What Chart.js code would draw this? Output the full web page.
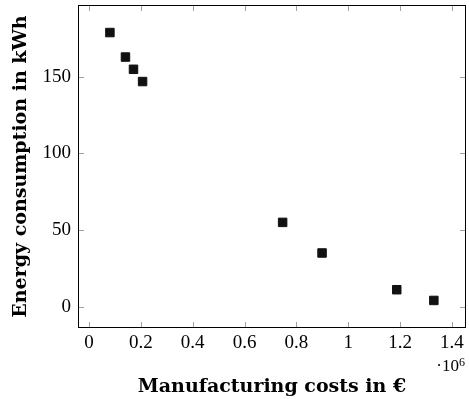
<!DOCTYPE html>
<html>
<head>
<meta charset="utf-8">
<script src="https://cdn.jsdelivr.net/npm/chart.js@4"></script>
<style>
  body { margin: 0; background: #fff; }
  #wrap { width: 469px; height: 399px; }
</style>
</head>
<body>
<div id="wrap"><canvas id="chart" width="469" height="399"></canvas></div>
<script>
// manufacturing costs in euro
const costs = [81000, 141000, 172000, 207000, 747000, 899000, 1187000, 1330000];
// energy consumption in kWh
const energy = [179, 163, 155, 147, 55, 35, 11, 4];

const xTickValues = [0, 200000, 400000, 600000, 800000, 1000000, 1200000, 1400000];
const xTickLabels = ["0", "0.2", "0.4", "0.6", "0.8", "1", "1.2", "1.4"];
const yTickValues = [0, 50, 100, 150];

const serif = "'Liberation Serif', 'Times New Roman', serif";
const wideSerif = "'DejaVu Serif', serif";

// ticks pointing into the plot on all four sides, plus the ·10^6 note
const innerTicks = {
  id: "innerTicks",
  afterDraw(chart) {
    const { ctx, chartArea: a, scales } = chart;
    const len = 6;
    ctx.save();
    ctx.strokeStyle = "#a0a0a0";
    ctx.lineWidth = 1;
    ctx.beginPath();
    xTickValues.forEach((v) => {
      const px = Math.round(scales.x.getPixelForValue(v)) + 0.5;
      ctx.moveTo(px, a.bottom); ctx.lineTo(px, a.bottom - len);
      ctx.moveTo(px, a.top); ctx.lineTo(px, a.top + len);
    });
    yTickValues.forEach((v) => {
      const py = Math.round(scales.y.getPixelForValue(v)) + 0.5;
      ctx.moveTo(a.left, py); ctx.lineTo(a.left + len, py);
      ctx.moveTo(a.right, py); ctx.lineTo(a.right - len, py);
    });
    ctx.stroke();

    ctx.strokeStyle = "#000";
    ctx.strokeRect(a.left + 0.5, a.top + 0.5, a.right - a.left - 1, a.bottom - a.top - 1);

    ctx.fillStyle = "#000";
    ctx.textBaseline = "alphabetic";
    ctx.textAlign = "right";
    ctx.font = "12px " + serif;
    ctx.fillText("6", a.right - 1, 366);
    const sup = ctx.measureText("6").width;
    ctx.font = "17px " + serif;
    ctx.fillText("·10", a.right - 1 - sup, 371);
    ctx.restore();
  },
};

new Chart(document.getElementById("chart"), {
  type: "scatter",
  data: {
    datasets: [
      {
        data: costs.map((c, i) => ({ x: c, y: energy[i] })),
        pointStyle: "rect",
        pointRadius: 6,
        pointHoverRadius: 6,
        backgroundColor: "#111",
        borderColor: "#111",
        borderWidth: 1,
      },
    ],
  },
  options: {
    responsive: false,
    animation: false,
    layout: { autoPadding: false, padding: { top: 5, right: 3, left: 0, bottom: 0 } },
    scales: {
      x: {
        type: "linear",
        min: -42000,
        max: 1454000,
        afterBuildTicks: (s) => { s.ticks = xTickValues.map((v) => ({ value: v })); },
        afterFit: (s) => { s.height = 71; s.paddingLeft = 0; s.paddingRight = 0; },
        grid: { display: false, drawTicks: false },
        border: { display: false },
        ticks: {
          maxRotation: 0,
          autoSkip: false,
          padding: 4,
          color: "#000",
          font: { family: serif, size: 19 },
          callback: (v, i) => xTickLabels[i],
        },
        title: {
          display: true,
          text: "Manufacturing costs in €",
          color: "#000",
          padding: { top: 0, bottom: 1 },
          font: { family: wideSerif, size: 19, weight: "bold" },
        },
      },
      y: {
        min: -14,
        max: 197,
        afterBuildTicks: (s) => { s.ticks = yTickValues.map((v) => ({ value: v })); },
        afterFit: (s) => { s.width = 78; s.paddingTop = 0; s.paddingBottom = 0; },
        grid: { display: false, drawTicks: false },
        border: { display: false },
        ticks: {
          padding: 7,
          color: "#000",
          font: { family: serif, size: 19 },
        },
        title: {
          display: true,
          text: "Energy consumption in kWh",
          color: "#000",
          padding: { top: 10, bottom: 0 },
          font: { family: wideSerif, size: 19, weight: "bold" },
        },
      },
    },
    plugins: {
      legend: { display: false },
      tooltip: { enabled: false },
    },
  },
  plugins: [innerTicks],
});
</script>
</body>
</html>
